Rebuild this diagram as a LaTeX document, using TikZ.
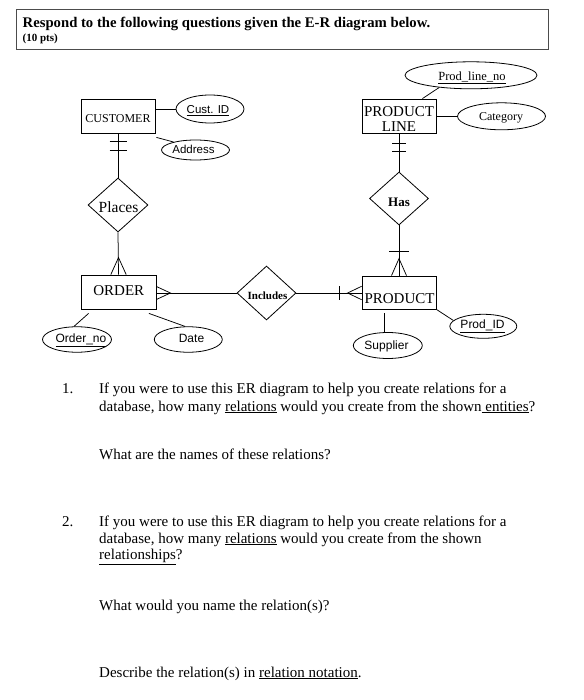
\documentclass[tikz,border=0pt]{standalone}
\usepackage{fontspec}
\setmainfont{Liberation Serif}
\newfontfamily\arialf{Liberation Sans}
\usetikzlibrary{shapes.geometric,calc}
\tikzset{
  entity/.style={draw, rectangle, line width=0.8pt, inner sep=0pt},
  rel/.style={draw, diamond, line width=0.8pt, inner sep=0pt},
  attr/.style={draw, ellipse, line width=0.8pt, inner sep=0pt},
  conn/.style={line width=0.75pt},
  lbl/.style={anchor=base, inner sep=0pt},
  sanslbl/.style={anchor=base, inner sep=0pt, font=\arialf\fontsize{12}{12}\selectfont},
  body/.style={anchor=base west, inner sep=0pt, font=\fontsize{15}{17}\selectfont}
}
\begin{document}
\begin{tikzpicture}[x=1pt,y=-1pt]
\useasboundingbox (0,0) rectangle (583,700);
\fill[white] (0,0) rectangle (583,700);

% header
\node[draw=black!70, line width=0.9pt, minimum width=532pt, minimum height=40pt, inner sep=0pt] (hdr) at (282,29) {};
\node[anchor=base west, inner sep=0pt, font=\fontsize{14.7}{15}\selectfont\bfseries] (title) at (22.5,27.5) {Respond to the following questions given the E-R diagram below.};
\node[anchor=base west, inner sep=0pt, font=\fontsize{11}{12}\selectfont\bfseries] (pts) at (22.5,41.5) {(10 pts)};

% entities
\node[entity, minimum width=74pt, minimum height=34pt] (CUST) at (118,116) {};
\node[entity, minimum width=74pt, minimum height=34pt] (PL) at (399,116) {};
\node[entity, minimum width=75pt, minimum height=34pt] (ORD) at (118.5,292) {};
\node[entity, minimum width=74pt, minimum height=33pt] (PROD) at (399,292.5) {};

% relationships
\node[rel, minimum width=60pt, minimum height=54pt] (PLACES) at (118,205) {};
\node[rel, minimum width=59pt, minimum height=53pt] (HAS) at (399,198.5) {};
\node[rel, minimum width=59pt, minimum height=54pt] (INC) at (266.5,293) {};

% attributes
\node[attr, minimum width=68pt, minimum height=28pt] (CID) at (210,109) {};
\node[attr, minimum width=68pt, minimum height=20pt] (ADDR) at (195.5,150) {};
\node[attr, minimum width=132pt, minimum height=27pt] (PLN) at (471,75.3) {};
\node[attr, minimum width=88pt, minimum height=27pt] (CAT) at (501.5,116.3) {};
\node[attr, minimum width=69pt, minimum height=25.5pt] (ONO) at (77,339.5) {};
\node[attr, minimum width=68pt, minimum height=25.5pt] (DATE) at (188.3,339.5) {};
\node[attr, minimum width=67pt, minimum height=24pt] (PID) at (483.3,326.3) {};
\node[attr, minimum width=69pt, minimum height=26pt] (SUP) at (387.8,345.5) {};

% labels
\node[lbl, font=\fontsize{12}{12}\selectfont] (tCUST) at (118,123) {CUSTOMER};
\node[lbl, font=\fontsize{15}{15}\selectfont] (tPL1) at (399,117) {PRODUCT};
\node[lbl, font=\fontsize{15}{15}\selectfont] (tPL2) at (399,132) {LINE};
\node[lbl, font=\fontsize{15}{15}\selectfont] (tORD) at (118.8,295) {ORDER};
\node[lbl, font=\fontsize{15}{15}\selectfont] (tPROD) at (399.5,303) {PRODUCT};
\node[lbl, font=\fontsize{15.5}{15}\selectfont] (tPLACES) at (118.5,213) {Places};
\node[lbl, font=\fontsize{13}{13}\selectfont\bfseries] (tHAS) at (399,206.5) {Has};
\node[lbl, font=\fontsize{11}{11}\selectfont\bfseries] (tINC) at (267.5,299.5) {Includes};
\node[lbl, font=\fontsize{12}{12}\selectfont] (tCAT) at (501,121) {Category};
\node[lbl, font=\fontsize{12.5}{12}\selectfont] (tPLN) at (472,80.5) {\underline{Prod\_line\_no}};
\node[sanslbl, font=\arialf\fontsize{11.5}{12}\selectfont] (tCID) at (208,113.3) {\underline{Cust. ID}};
\node[sanslbl, font=\arialf\fontsize{11.5}{12}\selectfont] (tADDR) at (193.5,154) {Address};
\node[sanslbl] (tONO) at (81,342.5) {\underline{Order\_no}};
\node[sanslbl] (tDATE) at (191.5,342.7) {Date};
\node[sanslbl] (tPID) at (482.5,328.3) {\underline{Prod\_ID}};
\node[sanslbl] (tSUP) at (386.5,349.5) {Supplier};

% connectors: CUSTOMER
\draw[conn] (CUST.east |- CID.west) -- (CID.west);
\draw[conn] ($(CUST.south east)+(1,4)$) -- (ADDR.160);
\draw[conn] (CUST.south) -- (PLACES.north);
\draw[conn] ($(CUST.south)+(-8.5,8)$) -- ++(17,0);
\draw[conn] ($(CUST.south)+(-8.5,17)$) -- ++(17,0);
% Places - ORDER
\draw[conn] (PLACES.south) -- (ORD.north);
\draw[conn] ($(ORD.north)+(-7.7,0)$) -- ($(ORD.north)+(0,-17)$) -- ($(ORD.north)+(7.7,0)$);
% ORDER - Includes
\draw[conn] (INC.west) -- (ORD.east |- INC.west);
\draw[conn] ($(ORD.east |- INC.west)+(0,-6.5)$) -- ($(ORD.east |- INC.west)+(14,0)$) -- ($(ORD.east |- INC.west)+(0,6.5)$);
% Includes - PRODUCT
\draw[conn] (INC.east) -- (PROD.west |- INC.east);
\draw[conn] ($(PROD.west |- INC.east)+(-22,-6.8)$) -- ++(0,13.6);
\draw[conn] ($(PROD.west |- INC.east)+(0,-6.7)$) -- ($(PROD.west |- INC.east)+(-14,0)$) -- ($(PROD.west |- INC.east)+(0,6.7)$);
% PRODUCT LINE - Has
\draw[conn] (PL.south) -- (HAS.north);
\draw[conn] ($(PL.south)+(-7,10)$) -- ++(14,0);
\draw[conn] ($(PL.south)+(-7,18)$) -- ++(14,0);
% Has - PRODUCT
\draw[conn] (HAS.south) -- (PROD.north);
\draw[conn] ($(PROD.north)+(-10,-24.3)$) -- ++(20,0);
\draw[conn] ($(PROD.north)+(-7.5,0)$) -- ($(PROD.north)+(0,-17)$) -- ($(PROD.north)+(7.5,0)$);
% PRODUCT LINE attributes
\draw[conn] ($(PL.north east)+(-14,0)$) -- (PLN.201);
\draw[conn] (PL.east |- CAT.west) -- (CAT.west);
% ORDER attributes
\draw[conn] ($(ORD.south west)+(8,4)$) -- (ONO.103);
\draw[conn] ($(ORD.south east)+(-7.5,4)$) -- (DATE.104);
% PRODUCT attributes
\draw[conn] (PROD.south east) -- (PID.169);
\draw[conn] ($(PROD.south)+(-15,4)$) coordinate (s0) -- (s0 |- SUP.north);

% questions
\node[body] (n1) at (62,393.5) {1.};
\node[body] (q1a) at (99,393.5) {If you were to use this ER diagram to help you create relations for a};
\node[body] (q1b) at (99,411) {database, how many \underline{relations} would you create from the shown\underline{\ entities}?};
\node[body] (q1c) at (99,459) {What are the names of these relations?};
\node[body] (n2) at (62,526) {2.};
\node[body] (q2a) at (99,526) {If you were to use this ER diagram to help you create relations for a};
\node[body] (q2b) at (99,543) {database, how many \underline{relations} would you create from the shown};
\node[body] (q2c) at (99,559.5) {\underline{relationships}?};
\node[body] (q2d) at (99,610) {What would you name the relation(s)?};
\node[body] (q2e) at (99,677) {Describe the relation(s) in \underline{relation notation}.};
\end{tikzpicture}
\end{document}
